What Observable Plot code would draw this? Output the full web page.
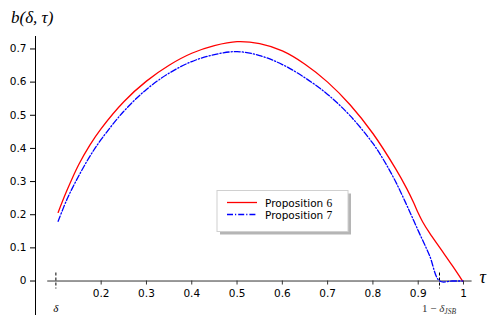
<!DOCTYPE html>
<html>
<head>
<meta charset="utf-8">
<script src="https://cdn.jsdelivr.net/npm/d3@7"></script>
<script src="https://cdn.jsdelivr.net/npm/@observablehq/plot@0.6"></script>
<style>
  html, body { margin: 0; padding: 0; background: #fff; }
  #chart { position: relative; width: 498px; height: 327px; }
  svg { overflow: visible; }
</style>
</head>
<body>
<div id="chart"></div>
<script>
// ---- data ----
const tau6 = [0.105, 0.125, 0.15, 0.175, 0.2, 0.25, 0.3, 0.35, 0.4, 0.45, 0.5, 0.55, 0.6, 0.65, 0.7, 0.75, 0.8, 0.85, 0.875, 0.89, 0.9, 0.91, 0.925, 0.95, 0.975, 0.998];
const prop6 = [0.207, 0.275, 0.350, 0.410, 0.460, 0.541, 0.603, 0.651, 0.687, 0.710, 0.722, 0.716, 0.694, 0.654, 0.600, 0.531, 0.445, 0.339, 0.278, 0.236, 0.205, 0.178, 0.145, 0.096, 0.047, 0.0];
const tau7 = [0.105, 0.125, 0.15, 0.175, 0.2, 0.25, 0.3, 0.35, 0.4, 0.45, 0.5, 0.55, 0.6, 0.65, 0.7, 0.75, 0.8, 0.825, 0.85, 0.875, 0.9, 0.925, 0.9475, 0.975, 0.998];
const prop7 = [0.180, 0.248, 0.316, 0.376, 0.427, 0.512, 0.578, 0.627, 0.662, 0.683, 0.692, 0.680, 0.653, 0.613, 0.563, 0.498, 0.415, 0.362, 0.300, 0.228, 0.152, 0.077, 0.0, 0.0, 0.0];
const yTicks = [0, 0.1, 0.2, 0.3, 0.4, 0.5, 0.6, 0.7];
const yTickLabels = ["0", "0.1", "0.2", "0.3", "0.4", "0.5", "0.6", "0.7"];
const xTicks = [0.2, 0.3, 0.4, 0.5, 0.6, 0.7, 0.8, 0.9, 1.0];
const xTickLabels = ["0.2", "0.3", "0.4", "0.5", "0.6", "0.7", "0.8", "0.9", "1"];
const delta = 0.1;
const oneMinusDeltaJSB = 0.947;
const xDomain = [0.055, 1.019];
const yDomain = [-0.104, 0.7376];
const xAxisExtent = [0.082, 1.019];
const seriesNames = ["Proposition ", "Proposition "];
const seriesNums = ["6", "7"];

const rows6 = tau6.map((t, i) => ({tau: t, b: prop6[i]}));
const rows7 = tau7.map((t, i) => ({tau: t, b: prop7[i]}));
const yt = yTicks.map((v, i) => ({v, label: yTickLabels[i]}));
const xt = xTicks.map((v, i) => ({v, label: xTickLabels[i]}));

const sans = "'DejaVu Sans', sans-serif";
const serif = "'Liberation Serif', 'DejaVu Serif', serif";
const dashDot = "6,2,1.2,2";

const chart = Plot.plot({
  width: 498,
  height: 327,
  marginLeft: 35,
  marginRight: 26.4,
  marginTop: 36,
  marginBottom: 12,
  style: {fontFamily: sans, fontSize: "10.5px", color: "#000", background: "#fff", overflow: "visible"},
  x: {type: "linear", domain: xDomain, axis: null},
  y: {type: "linear", domain: yDomain, axis: null},
  marks: [
    // y axis line
    Plot.ruleX([xDomain[0]], {y1: yDomain[0], y2: yDomain[1], stroke: "#000", strokeWidth: 1}),
    // y ticks
    Plot.ruleY(yt, {y: "v", x1: xDomain[0], x2: xDomain[0], insetLeft: -5, stroke: "#000", strokeWidth: 1}),
    Plot.text(yt, {y: "v", x: xDomain[0], text: "label", textAnchor: "end", dx: -9, fontSize: 10.5, fill: "#000"}),
    // x axis line
    Plot.ruleY([0], {x1: xAxisExtent[0], x2: xAxisExtent[1], stroke: "#333", strokeWidth: 1}),
    // x ticks
    Plot.ruleX(xt, {x: "v", y1: 0, y2: 0, insetBottom: -4, stroke: "#333", strokeWidth: 1}),
    Plot.text(xt, {x: "v", y: 0, text: "label", dy: 13, fontSize: 10.5, fill: "#000"}),
    // special dashed markers
    Plot.ruleX([delta, oneMinusDeltaJSB], {y1: 0, y2: 0, insetTop: -8, insetBottom: -8, stroke: "#000", strokeWidth: 1, strokeDasharray: "3,2"}),
    Plot.text([delta], {x: d => d, y: 0, text: () => "δ", dy: 27, fontFamily: serif, fontStyle: "italic", fontSize: 11, fill: "#000"}),
    // curves
    Plot.line(rows6, {x: "tau", y: "b", stroke: "#ff0000", strokeWidth: 1.3, curve: "catmull-rom"}),
    Plot.line(rows7, {x: "tau", y: "b", stroke: "#0000ff", strokeWidth: 1.3, strokeDasharray: dashDot, curve: "catmull-rom"})
  ]
});

const svg = d3.select(chart);
const xs = chart.scale("x");
const ys = chart.scale("y");

// 1 - delta_JSB label
const lab = svg.append("text")
  .attr("x", xs.apply(oneMinusDeltaJSB))
  .attr("y", ys.apply(0) + 31)
  .attr("text-anchor", "middle")
  .attr("font-family", serif)
  .attr("font-size", 11)
  .attr("fill", "#333");
lab.append("tspan").text("1 − ");
lab.append("tspan").attr("font-style", "italic").text("δ");
lab.append("tspan").attr("font-style", "italic").attr("font-size", 7.5).attr("dy", 2.5).text("JSB");

// axis labels
svg.append("text")
  .attr("x", xs.apply(xAxisExtent[1]) + 8)
  .attr("y", ys.apply(0) + 2)
  .attr("text-anchor", "start")
  .attr("font-family", serif).attr("font-style", "italic").attr("font-size", 18)
  .attr("fill", "#000").text("τ");

svg.append("text")
  .attr("x", 11).attr("y", 23)
  .attr("text-anchor", "start")
  .attr("font-family", serif).attr("font-style", "italic").attr("font-size", 17)
  .attr("fill", "#000").text("b(δ, τ)");

// legend
const lg = svg.append("g").attr("transform", "translate(217,190.5)");
lg.append("rect").attr("x", 3).attr("y", 3).attr("width", 131).attr("height", 41).attr("fill", "#b5b5b5");
lg.append("rect").attr("x", 0).attr("y", 0).attr("width", 131).attr("height", 41).attr("fill", "#fff").attr("stroke", "#d0d0d0").attr("stroke-width", 1);
const legItems = [
  {color: "#ff0000", dash: null, name: seriesNames[0], num: seriesNums[0]},
  {color: "#0000ff", dash: dashDot, name: seriesNames[1], num: seriesNums[1]}
];
legItems.forEach((it, i) => {
  const yy = 12 + i * 12;
  const ln = lg.append("line").attr("x1", 10).attr("x2", 40).attr("y1", yy).attr("y2", yy)
    .attr("stroke", it.color).attr("stroke-width", 1.3);
  if (it.dash) ln.attr("stroke-dasharray", it.dash);
  const t = lg.append("text").attr("x", 48).attr("y", yy + 4)
    .attr("text-anchor", "start")
    .attr("font-family", sans).attr("font-size", 10.5).attr("fill", "#000");
  t.append("tspan").text(it.name);
  t.append("tspan").attr("font-family", serif).attr("font-size", 11.5).text(it.num);
});

document.getElementById("chart").appendChild(chart);
</script>
</body>
</html>
